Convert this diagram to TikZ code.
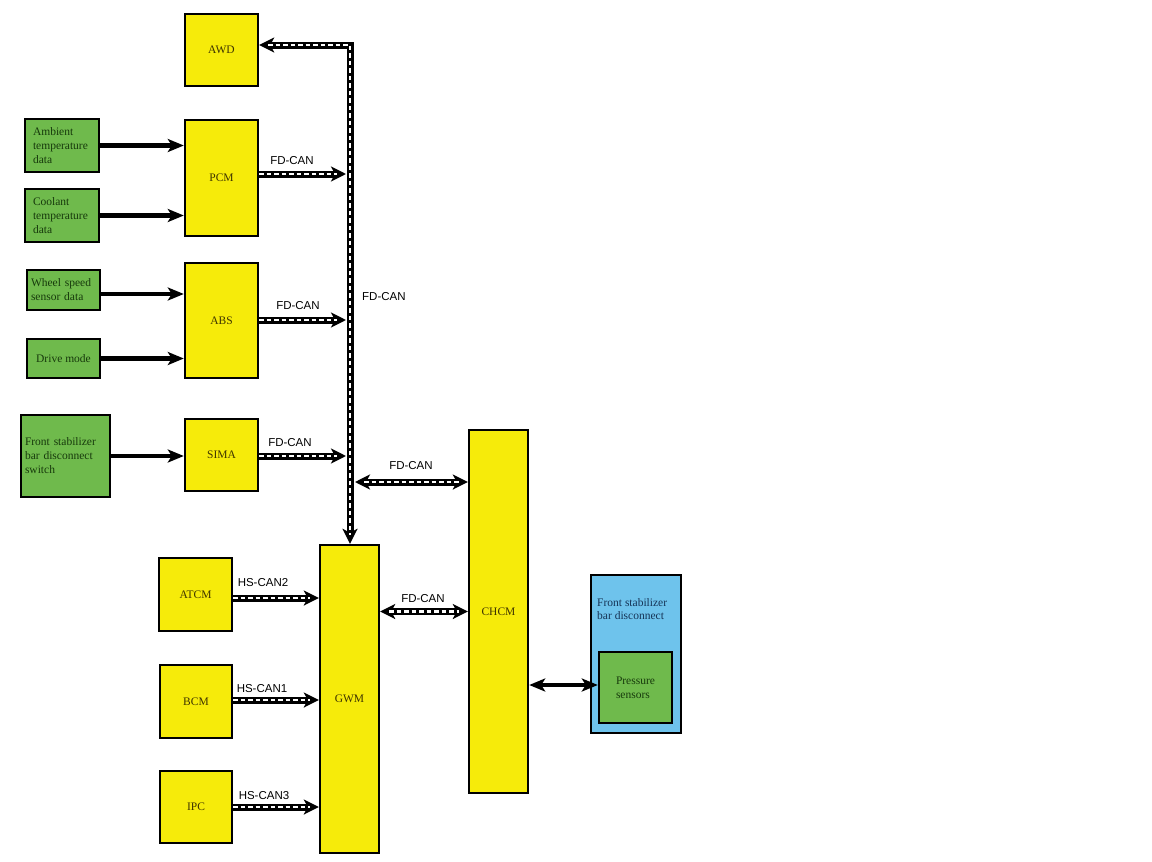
\documentclass[tikz,border=0pt]{standalone}
\usepackage{fontspec}
\setmainfont{Liberation Serif}
\setsansfont{Liberation Sans}
\usetikzlibrary{arrows.meta}
\definecolor{myyellow}{HTML}{F6EB0A}
\definecolor{mygreen}{HTML}{6FBA4C}
\definecolor{myblue}{HTML}{6EC3EC}
\definecolor{ytext}{HTML}{3F3500}
\definecolor{gtext}{HTML}{173A0C}
\definecolor{btext}{HTML}{163456}
\tikzset{
  ybox/.style={draw=black, line width=2.4pt, fill=myyellow, text=ytext, inner sep=2pt,
    font=\fontsize{11.5}{14}\selectfont},
  gbox/.style={draw=black, line width=2.4pt, fill=mygreen, text=gtext, align=left, inner sep=2pt,
    font=\fontsize{11.5}{14}\selectfont},
  solidarrow/.style={line width=4.2pt, -{Stealth[length=16pt,width=13pt,inset=4pt]}},
  bus/.style={line width=7pt, -{Stealth[length=15pt,width=15pt,inset=4pt]},
    postaction={draw=white, line width=2.6pt, dash pattern=on 4.5pt off 3pt, -, shorten >=9pt}},
  busboth/.style={line width=7pt, {Stealth[length=15pt,width=15pt,inset=4pt]}-{Stealth[length=15pt,width=15pt,inset=4pt]},
    postaction={draw=white, line width=2.6pt, dash pattern=on 4.5pt off 3pt, -, shorten >=9pt, shorten <=9pt}},
  canlabel/.style={font=\sffamily\fontsize{11.5}{13}\selectfont, inner sep=1pt}
}
\begin{document}
\begin{tikzpicture}[x=1pt,y=-1pt]
\useasboundingbox[fill=white] (0,0) rectangle (1152,862);

% yellow modules
\node[ybox, minimum width=73pt, minimum height=72pt] (awd) at (221.5,50) {AWD};
\node[ybox, minimum width=73pt, minimum height=116pt] (pcm) at (221.5,178) {PCM};
\node[ybox, minimum width=73pt, minimum height=115pt] (abs) at (221.5,320.5) {ABS};
\node[ybox, minimum width=73pt, minimum height=72pt] (sima) at (221.5,455) {SIMA};
\node[ybox, minimum width=59pt, minimum height=363pt] (chcm) at (498.5,611.5) {CHCM};
\node[ybox, minimum width=59pt, minimum height=308pt] (gwm) at (349.5,699) {GWM};
\node[ybox, minimum width=73pt, minimum height=73pt] (atcm) at (195.5,594.5) {ATCM};
\node[ybox, minimum width=72pt, minimum height=73pt] (bcm) at (196,701.5) {BCM};
\node[ybox, minimum width=72pt, minimum height=72pt] (ipc) at (196,807) {IPC};

% green inputs
\node[gbox, minimum width=74pt, minimum height=53pt, inner xsep=8pt, text width=58pt] (amb) at (62,145.5) {Ambient\\temperature\\data};
\node[gbox, minimum width=74pt, minimum height=53pt, inner xsep=8pt, text width=58pt] (cool) at (62,215.5) {Coolant\\temperature\\data};
\node[gbox, minimum width=73pt, minimum height=40pt, inner xsep=4pt, text width=65pt] (wheel) at (63.5,290) {Wheel speed\\sensor data};
\node[gbox, minimum width=73pt, minimum height=39pt] (drive) at (63.5,358.5) {Drive mode};
\node[gbox, minimum width=89pt, minimum height=82pt, inner xsep=4pt, text width=81pt] (fsw) at (65.5,456) {Front stabilizer\\bar disconnect\\switch};

% front stabilizer bar disconnect
\node[draw=black, line width=2.4pt, fill=myblue, minimum width=90pt, minimum height=158pt] (fsbd) at (636,654) {};
\node[anchor=north west, align=left, text=btext, inner sep=0pt, font=\fontsize{11.5}{13.5}\selectfont] (fsbdlab) at (597,598) {Front stabilizer\\bar disconnect};
\node[gbox, minimum width=73pt, minimum height=71pt] (ps) at (635.5,687.5) {Pressure\\sensors};

% input arrows
\draw[solidarrow] (amb.east) -- (pcm.west |- amb.east);
\draw[solidarrow] (cool.east) -- (pcm.west |- cool.east);
\draw[solidarrow] (wheel.east |- 0,294) -- (abs.west |- 0,294);
\draw[solidarrow] (drive.east) -- (abs.west |- drive.east);
\draw[solidarrow] (fsw.east) -- (sima.west |- fsw.east);

% main bus
\coordinate (busTop) at (350,45);
\draw[busboth] (awd.east |- busTop) -- (busTop) -- (busTop |- gwm.north);

% taps on the bus
\coordinate (tapPCM) at (346,174);
\coordinate (tapABS) at (346,320);
\coordinate (tapSIMA) at (346,456);
\coordinate (tapCHCM) at (355,482);

\draw[bus] (pcm.east |- tapPCM) -- (tapPCM);
\draw[bus] (abs.east |- tapABS) -- (tapABS);
\draw[bus] (sima.east |- tapSIMA) -- (tapSIMA);
\draw[busboth] (tapCHCM) -- (chcm.west |- tapCHCM);
\draw[busboth] (gwm.east |- chcm.west) -- (chcm.west);
\draw[bus] (atcm.east |- 0,598) -- (gwm.west |- 0,598);
\draw[bus] (bcm.east |- 0,700) -- (gwm.west |- 0,700);
\draw[bus] (ipc.east) -- (gwm.west |- ipc.east);
\draw[line width=4.2pt, {Stealth[length=16pt,width=13pt,inset=4pt]}-{Stealth[length=16pt,width=13pt,inset=4pt]}] (chcm.east |- 0,685) -- (ps.west |- 0,685);

% labels
\node[canlabel] (l1) at (292,161) {FD-CAN};
\node[canlabel] (l2) at (298,306) {FD-CAN};
\node[canlabel] (l3) at (290,443) {FD-CAN};
\node[canlabel, anchor=west] (l4) at (361,297) {FD-CAN};
\node[canlabel] (l5) at (411,466) {FD-CAN};
\node[canlabel] (l6) at (423,599) {FD-CAN};
\node[canlabel] (l7) at (263,583) {HS-CAN2};
\node[canlabel] (l8) at (262,689) {HS-CAN1};
\node[canlabel] (l9) at (264,796) {HS-CAN3};
\end{tikzpicture}
\end{document}
